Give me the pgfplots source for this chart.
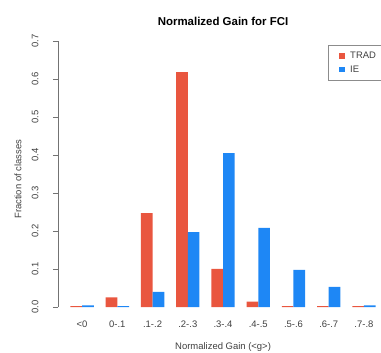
\documentclass[border=0pt]{standalone}
\usepackage{fontspec}
\setmainfont{Liberation Sans}
\usepackage{pgfplots}
\pgfplotsset{compat=1.18}
\definecolor{tradred}{RGB}{233,86,63}
\definecolor{ieblue}{RGB}{30,135,245}
\begin{document}
\begin{tikzpicture}
\begin{axis}[
  at={(58bp,46bp)}, anchor=south west,
  scale only axis, width=323bp, height=266bp,
  xmin=-0.684, xmax=8.484, ymin=0, ymax=0.7,
  enlargelimits=false, clip=false,
  axis lines=left, axis line style={-, black!55},
  x axis line style={draw=none},
  xtick={0,1,2,3,4,5,6,7,8},
  xticklabels={<0,0-.1,.1-.2,.2-.3,.3-.4,.4-.5,.5-.6,.6-.7,.7-.8},
  major x tick style={draw=none},
  ytick={0,0.1,0.2,0.3,0.4,0.5,0.6,0.7},
  yticklabel style={/pgf/number format/fixed, /pgf/number format/fixed zerofill, /pgf/number format/precision=1, rotate=90, anchor=center, yshift=18bp},
  /pgf/number format/assume math mode=true,
  tick align=outside, major tick length=5bp,
  y tick style={black!55},
  ticklabel style={font=\fontsize{9.5}{11}\selectfont, text=black!75},
  xticklabel style={yshift=-5bp},
  xlabel={Normalized Gain (<g>)},
  xlabel style={at={(axis description cs:0.511,0)}, anchor=center, yshift=-40bp, font=\fontsize{9.5}{11}\selectfont, text=black!75},
  ylabel={Fraction of classes},
  ylabel style={at={(axis description cs:-0.124,0.48)}, anchor=center, font=\fontsize{9.5}{11}\selectfont, text=black!75},
  title={Normalized Gain for FCI},
  title style={at={(axis description cs:0.511,1)}, anchor=center, yshift=14bp, font=\fontsize{11.5}{13}\selectfont\bfseries},
  ybar, bar width=11.7bp,
  legend style={at={(axis description cs:0.836,0.985)}, anchor=north west, draw=black!45, font=\fontsize{9.5}{11}\selectfont, text=black!75, inner xsep=11bp, inner ysep=5bp, row sep=1.5bp, legend cell align=left},
  legend image code/.code={\fill[#1] (0bp,-2.8bp) rectangle (5.6bp,2.8bp); \path (9bp,0bp);},
]
\addplot[fill=tradred, draw=none, bar shift=-5.85bp] coordinates {
 (0,0.002) (1,0.025) (2,0.247) (3,0.618) (4,0.100) (5,0.014) (6,0.002) (7,0.002) (8,0.002)};
\addplot[fill=ieblue, draw=none, bar shift=5.85bp] coordinates {
 (0,0.004) (1,0.002) (2,0.040) (3,0.197) (4,0.405) (5,0.208) (6,0.098) (7,0.053) (8,0.004)};
\legend{TRAD,IE}
\end{axis}
\pgfresetboundingbox
\path[use as bounding box] (0,0) rectangle (381bp,353bp);
\end{tikzpicture}
\end{document}
